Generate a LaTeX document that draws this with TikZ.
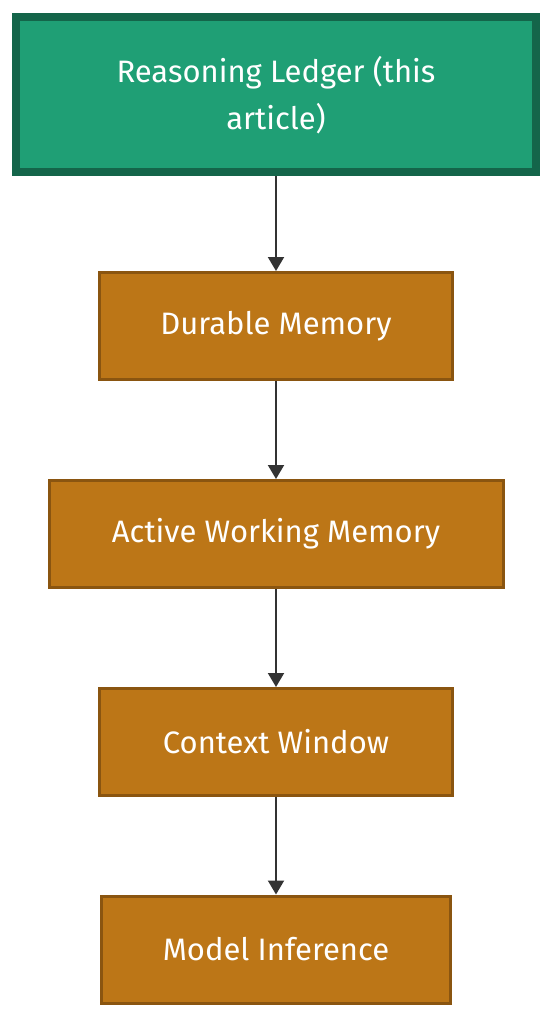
\documentclass[tikz,border=0pt]{standalone}
\usepackage{fontspec}
\setmainfont{Fira Sans}
\usetikzlibrary{arrows.meta}
\definecolor{gfill}{HTML}{1F9F75}
\definecolor{gdraw}{HTML}{14654A}
\definecolor{ofill}{HTML}{BC7617}
\definecolor{odraw}{HTML}{8A5510}
\definecolor{arr}{HTML}{333333}
\begin{document}
\begin{tikzpicture}[x=1pt,y=-1pt,
  obox/.style={draw=odraw,fill=ofill,line width=3pt,text=white,font=\fontsize{31}{36}\selectfont},
  conn/.style={draw=arr,line width=2pt,-{Triangle[length=14pt,width=16pt]}}]
\useasboundingbox (0,0) rectangle (552,1019);
\node[draw=gdraw,fill=gfill,line width=8pt,minimum width=520pt,minimum height=155pt,inner sep=0pt,
  text=white,align=center,font=\fontsize{31}{47}\selectfont] (a) at (276,95) {Reasoning Ledger (this\\article)};
\node[obox,minimum width=353pt,minimum height=107pt,inner sep=0pt] (b) at (276,326) {Durable Memory};
\node[obox,minimum width=454pt,minimum height=107pt,inner sep=0pt] (c) at (276,534) {Active Working Memory};
\node[obox,minimum width=353pt,minimum height=107pt,inner sep=0pt] (d) at (276,742) {Context Window};
\node[obox,minimum width=349pt,minimum height=107pt,inner sep=0pt] (e) at (276,949.5) {Model Inference};
\draw[conn] (a.south) -- (b.north);
\draw[conn] (b.south) -- (c.north);
\draw[conn] (c.south) -- (d.north);
\draw[conn] (d.south) -- (e.north);
\end{tikzpicture}
\end{document}
